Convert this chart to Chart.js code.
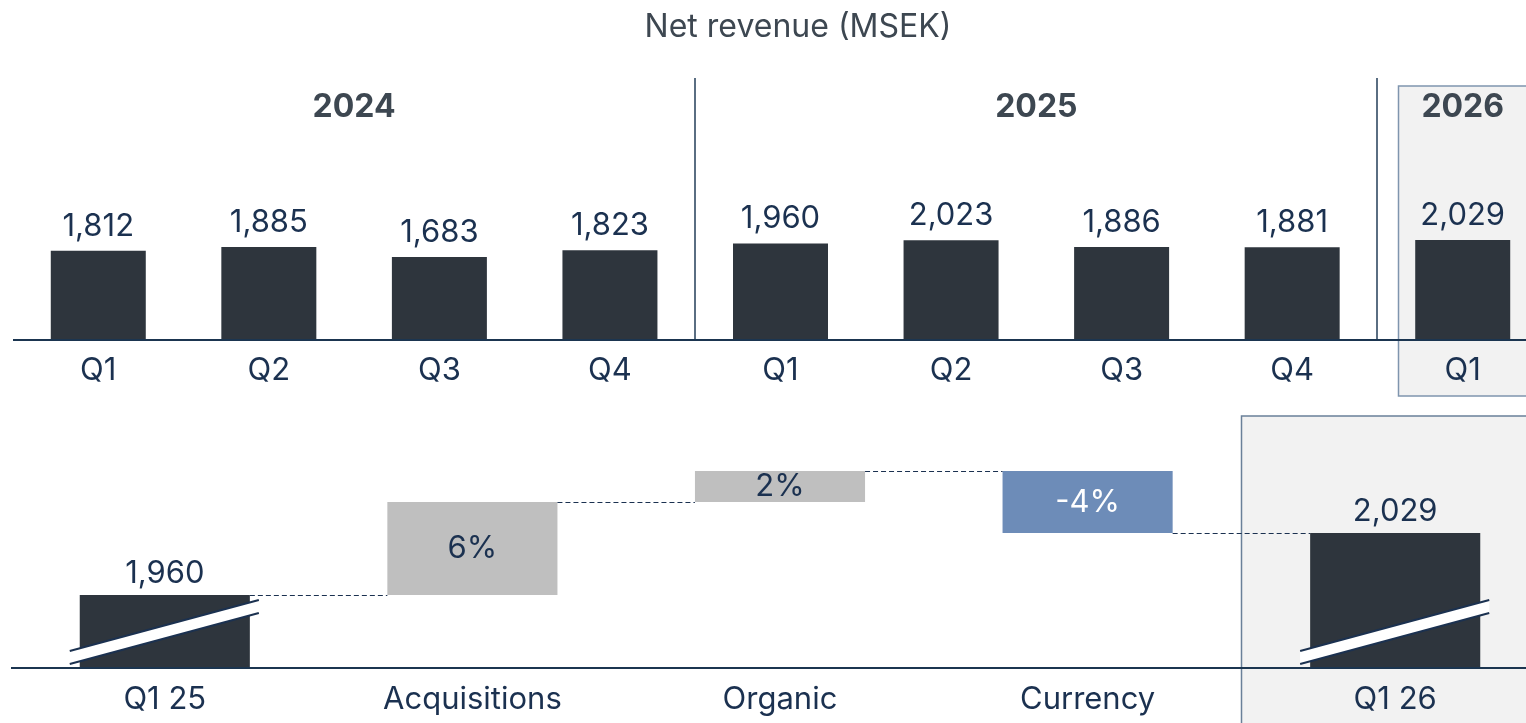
<!DOCTYPE html>
<html><head><meta charset="utf-8">
<script src="https://cdn.jsdelivr.net/npm/chart.js@4.4.1/dist/chart.umd.min.js"></script>
<style>
html,body{margin:0;padding:0;background:#fff;overflow:hidden;width:1526px;height:723px;position:relative}
canvas{position:absolute}
#topChart{left:13px;top:0}
#bottomChart{left:11px;top:400px}
</style></head><body>
<canvas id="topChart" width="1535" height="400"></canvas>
<canvas id="bottomChart" width="1538" height="323"></canvas>
<script>
// ---- data ----
const chartTitle = 'Net revenue (MSEK)';
const quarterLabels = ['Q1','Q2','Q3','Q4','Q1','Q2','Q3','Q4','Q1'];
const quarterValues = [1812,1885,1683,1823,1960,2023,1886,1881,2029];
const yearLabels = ['2024','2025','2026'];
const quartersPerYear = [4,4,1];

const bridgeLabels = ['Q1 25','Acquisitions','Organic','Currency','Q1 26'];
const bridgeStart = 1960;
const bridgeEnd = 2029;
const bridgeChanges = [6,2,-4]; // percent

// ---- styles ----
const FONT = "Inter, 'Liberation Sans', Arial, sans-serif";
const DARK = '#2e353d';
const GREY = '#bfbfbf';
const BLUE = '#6d8cb8';
const NAVY = '#1b3150';
const TITLEC = '#3d4751';
const BOXFILL = '#f2f2f2';
const BOXLINE = '#7f95ae';
const fmt = v => v.toLocaleString('en-US');

// ---- top chart ----
const topPlugin = {
  id: 'topDeco',
  beforeDatasetsDraw(chart) {
    const {ctx, chartArea: a, scales: {x}} = chart;
    const bars = chart.getDatasetMeta(0).data;
    const lastBar = bars[bars.length - 1];
    const bx = Math.round(lastBar.x - lastBar.width / 2 - 17) + 0.5;
    ctx.save();
    ctx.fillStyle = BOXFILL;
    ctx.fillRect(bx, 86, chart.width - bx + 10, 310);
    ctx.strokeStyle = BOXLINE;
    ctx.lineWidth = 1.5;
    ctx.strokeRect(bx, 86, chart.width - bx + 10, 310);
    // separators
    ctx.strokeStyle = '#5a6e82';
    ctx.lineWidth = 2;
    let idx = 0;
    for (let g = 0; g < quartersPerYear.length - 1; g++) {
      idx += quartersPerYear[g];
      const sx = Math.round((x.getPixelForValue(idx - 1) + x.getPixelForValue(idx)) / 2);
      ctx.beginPath(); ctx.moveTo(sx, 78); ctx.lineTo(sx, a.bottom); ctx.stroke();
    }
    ctx.restore();
  },
  afterDatasetsDraw(chart) {
    const {ctx, chartArea: a, scales: {x, y}} = chart;
    ctx.save();
    // baseline
    ctx.strokeStyle = '#1b3550';
    ctx.lineWidth = 2;
    ctx.beginPath(); ctx.moveTo(a.left, a.bottom); ctx.lineTo(chart.width, a.bottom); ctx.stroke();
    // value labels
    ctx.textAlign = 'center';
    ctx.textBaseline = 'alphabetic';
    ctx.fillStyle = NAVY;
    ctx.font = `31px ${FONT}`;
    quarterValues.forEach((v, i) => ctx.fillText(fmt(v), x.getPixelForValue(i), y.getPixelForValue(v) - 15));
    // quarter labels
    ctx.font = `31px ${FONT}`;
    quarterLabels.forEach((l, i) => ctx.fillText(l, x.getPixelForValue(i), a.bottom + 40));
    // year labels
    ctx.fillStyle = TITLEC;
    ctx.font = `bold 32px ${FONT}`;
    let start = 0;
    yearLabels.forEach((yl, g) => {
      const end = start + quartersPerYear[g] - 1;
      const cx = (x.getPixelForValue(start) + x.getPixelForValue(end)) / 2;
      ctx.fillText(yl, cx, 117);
      start = end + 1;
    });
    // title
    ctx.font = `32px ${FONT}`;
    ctx.fillText(chartTitle, 785, 37);
    ctx.restore();
  }
};

new Chart(document.getElementById('topChart'), {
  type: 'bar',
  data: {
    labels: quarterLabels.map((q, i) => q + '-' + i),
    datasets: [{
      data: quarterValues,
      backgroundColor: DARK,
      borderWidth: 0,
      categoryPercentage: 1,
      barPercentage: 0.557
    }]
  },
  options: {
    responsive: false,
    devicePixelRatio: 1,
    animation: false,
    events: [],
    layout: {padding: {top: 80, bottom: 60, left: 0, right: 0}},
    plugins: {legend: {display: false}, tooltip: {enabled: false}, title: {display: false}},
    scales: {
      x: {display: false, offset: true},
      y: {display: false, min: 0, max: 5274}
    }
  },
  plugins: [topPlugin]
});

// ---- bottom (bridge) chart ----
const Y_MIN = -4.71, Y_MAX = 11.29;
const floating = [];
const levels = [];
let cum = 0;
floating.push([Y_MIN, 0]); levels.push(0);
bridgeChanges.forEach(c => { floating.push([cum, cum + c]); cum += c; levels.push(cum); });
floating.push([Y_MIN, cum]);
const bridgeColors = [DARK, ...bridgeChanges.map(c => c >= 0 ? GREY : BLUE), DARK];
const bridgeTexts = [fmt(bridgeStart), ...bridgeChanges.map(c => c + '%'), fmt(bridgeEnd)];

const bottomPlugin = {
  id: 'bottomDeco',
  beforeDatasetsDraw(chart) {
    const {ctx, chartArea: a, scales: {x}} = chart;
    const n = bridgeLabels.length;
    const bx = Math.round((x.getPixelForValue(n - 2) + x.getPixelForValue(n - 1)) / 2) + 0.5;
    ctx.save();
    ctx.fillStyle = BOXFILL;
    ctx.fillRect(bx, a.top - 4, chart.width - bx + 10, chart.height);
    ctx.strokeStyle = '#6a8099';
    ctx.lineWidth = 1.5;
    ctx.strokeRect(bx, a.top - 4, chart.width - bx + 10, chart.height);
    ctx.restore();
  },
  afterDatasetsDraw(chart) {
    const {ctx, chartArea: a, scales: {x, y}} = chart;
    const bars = chart.getDatasetMeta(0).data;
    ctx.save();
    // connectors
    ctx.strokeStyle = NAVY;
    ctx.lineWidth = 1;
    ctx.setLineDash([5, 3]);
    for (let i = 0; i < bars.length - 1; i++) {
      const yy = Math.round(y.getPixelForValue(levels[i])) + 0.5;
      ctx.beginPath();
      ctx.moveTo(bars[i].x + bars[i].width / 2, yy);
      ctx.lineTo(bars[i + 1].x - bars[i + 1].width / 2, yy);
      ctx.stroke();
    }
    ctx.setLineDash([]);
    // baseline
    ctx.strokeStyle = '#1b3550';
    ctx.lineWidth = 2;
    ctx.beginPath(); ctx.moveTo(a.left, a.bottom); ctx.lineTo(chart.width, a.bottom); ctx.stroke();
    // break marks
    [0, bars.length - 1].forEach(i => {
      const b = bars[i];
      const L = b.x - b.width / 2 - 10, R = b.x + b.width / 2 + 9, base = a.bottom;
      ctx.fillStyle = '#ffffff';
      ctx.beginPath();
      ctx.moveTo(L, base - 17); ctx.lineTo(R, base - 68);
      ctx.lineTo(R, base - 55); ctx.lineTo(L, base - 4);
      ctx.closePath(); ctx.fill();
      ctx.strokeStyle = NAVY; ctx.lineWidth = 2;
      ctx.beginPath(); ctx.moveTo(L, base - 17); ctx.lineTo(R, base - 68); ctx.stroke();
      ctx.beginPath(); ctx.moveTo(L, base - 4); ctx.lineTo(R, base - 55); ctx.stroke();
    });
    // value labels
    ctx.textAlign = 'center';
    ctx.textBaseline = 'alphabetic';
    ctx.font = `31px ${FONT}`;
    floating.forEach((d, i) => {
      const cx = x.getPixelForValue(i);
      const topPx = y.getPixelForValue(Math.max(d[0], d[1]));
      const botPx = y.getPixelForValue(Math.min(d[0], d[1]));
      if (i === 0 || i === floating.length - 1) {
        ctx.fillStyle = NAVY;
        ctx.fillText(bridgeTexts[i], cx, topPx - 12);
      } else {
        ctx.fillStyle = bridgeChanges[i - 1] < 0 ? '#ffffff' : NAVY;
        ctx.fillText(bridgeTexts[i], cx, (topPx + botPx) / 2 + 10);
      }
    });
    // category labels
    ctx.fillStyle = NAVY;
    ctx.font = `31px ${FONT}`;
    bridgeLabels.forEach((l, i) => ctx.fillText(l, x.getPixelForValue(i), a.bottom + 41));
    ctx.restore();
  }
};

new Chart(document.getElementById('bottomChart'), {
  type: 'bar',
  data: {
    labels: bridgeLabels,
    datasets: [{
      data: floating,
      backgroundColor: bridgeColors,
      borderWidth: 0,
      borderSkipped: false,
      categoryPercentage: 1,
      barPercentage: 0.553
    }]
  },
  options: {
    responsive: false,
    devicePixelRatio: 1,
    animation: false,
    events: [],
    layout: {padding: {top: 20, bottom: 55, left: 0, right: 0}},
    plugins: {legend: {display: false}, tooltip: {enabled: false}, title: {display: false}},
    scales: {
      x: {display: false, offset: true},
      y: {display: false, min: Y_MIN, max: Y_MAX}
    }
  },
  plugins: [bottomPlugin]
});
</script>
</body></html>
